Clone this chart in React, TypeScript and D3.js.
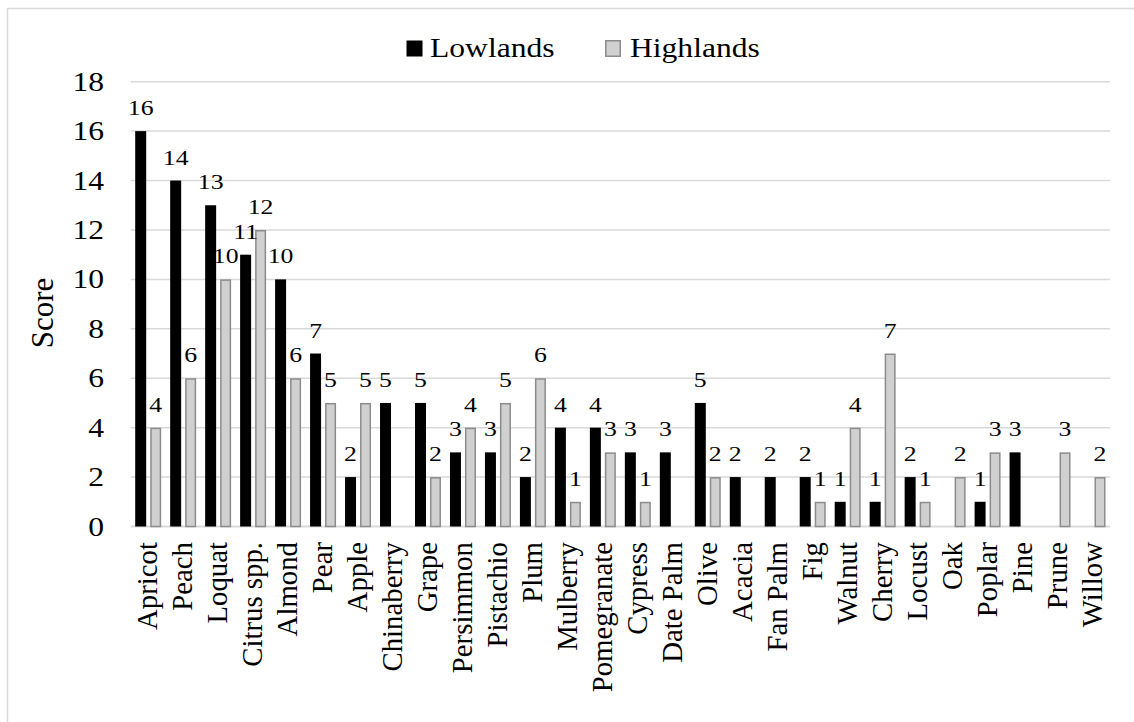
import React from 'react'
import * as d3 from 'd3'

const categories = [
  'Apricot', 'Peach', 'Loquat', 'Citrus spp.', 'Almond', 'Pear', 'Apple', 'Chinaberry',
  'Grape', 'Persimmon', 'Pistachio', 'Plum', 'Mulberry', 'Pomegranate', 'Cypress', 'Date Palm',
  'Olive', 'Acacia', 'Fan Palm', 'Fig', 'Walnut', 'Cherry', 'Locust', 'Oak', 'Poplar', 'Pine',
  'Prune', 'Willow'
]
const lowlands = [16, 14, 13, 11, 10, 7, 2, 5, 5, 3, 3, 2, 4, 4, 3, 3, 5, 2, 2, 2, 1, 1, 2, 0, 1, 3, 0, 0]
const highlands = [4, 6, 10, 12, 6, 5, 5, 0, 2, 4, 5, 6, 1, 3, 1, 0, 2, 0, 0, 1, 4, 7, 1, 2, 3, 0, 3, 2]
const seriesNames = ['Lowlands', 'Highlands']
const yTicks = [0, 2, 4, 6, 8, 10, 12, 14, 16, 18]

const W = 1134
const H = 722
const FONT = "'Liberation Serif', 'Times New Roman', Times, serif"
const SX = 1.17 // horizontal text widening seen in the source
const GRID = '#d9d9d9'
const GREY_FILL = '#d0d0d0'
const GREY_STROKE = '#8c8c8c'

const left = 130.7
const right = 1110
const top = 81.7
const bottom = 526.5

const App: React.FC = () => {
  const x = d3.scaleBand<string>().domain(categories).range([left, right]).padding(0)
  const inner = d3.scaleBand<string>()
    .domain(seriesNames)
    .range([0, x.bandwidth()])
    .paddingInner(4 / 15)
    .paddingOuter(0.3)
  const y = d3.scaleLinear().domain([0, 18]).range([bottom, top])

  const series = [
    { name: 'Lowlands', values: lowlands, fill: '#000', stroke: 'none' },
    { name: 'Highlands', values: highlands, fill: GREY_FILL, stroke: GREY_STROKE }
  ]

  return (
    <svg width={W} height={H} style={{ position: 'absolute', left: 0, top: 0, fontFamily: FONT }}>
      <rect x={0} y={0} width={W} height={H} fill="#fff" />
      {/* outer frame */}
      <rect x={7.5} y={8.5} width={W + 20} height={H + 20} fill="none" stroke={GRID} strokeWidth={1.5} />

      {/* gridlines */}
      {yTicks.map(t => (
        <line key={t} x1={left} x2={right} y1={y(t)} y2={y(t)} stroke={GRID} strokeWidth={t === 0 ? 2 : 1.5} />
      ))}

      {/* y tick labels */}
      {yTicks.map(t => (
        <text key={'t' + t} transform={`translate(104, ${y(t) + 9}) scale(${SX},1)`} textAnchor="end" fontSize={27} fill="#000">
          {t}
        </text>
      ))}

      {/* y title */}
      <text transform="translate(53, 313) rotate(-90)" textAnchor="middle" fontSize={31} fill="#000">Score</text>

      {/* bars */}
      {series.map(s => (
        <g key={s.name}>
          {categories.map((c, i) => {
            const v = s.values[i]
            if (!v) return null
            const bx = (x(c) as number) + (inner(s.name) as number)
            const pad = s.stroke === 'none' ? 0 : 0.75
            return (
              <rect
                key={c}
                x={bx + pad}
                y={y(v) + pad}
                width={inner.bandwidth() - 2 * pad}
                height={y(0) - y(v) - pad}
                fill={s.fill}
                stroke={s.stroke}
                strokeWidth={1.5}
              />
            )
          })}
        </g>
      ))}

      {/* data labels */}
      {series.map(s => (
        <g key={'l' + s.name}>
          {categories.map((c, i) => {
            const v = s.values[i]
            if (!v) return null
            const cx = (x(c) as number) + (inner(s.name) as number) + inner.bandwidth() / 2
            return (
              <text key={c} transform={`translate(${cx}, ${y(v) - 16}) scale(${SX},1)`} textAnchor="middle" fontSize={22} fill="#000">
                {v}
              </text>
            )
          })}
        </g>
      ))}

      {/* category labels */}
      {categories.map(c => (
        <text
          key={'c' + c}
          transform={`translate(${(x(c) as number) + x.bandwidth() / 2}, 542) rotate(-90)`}
          textAnchor="end"
          dy="0.32em"
          fontSize={28.8}
          fill="#000"
        >
          {c}
        </text>
      ))}

      {/* legend */}
      <rect x={406.5} y={40.5} width={16} height={16} fill="#000" />
      <text transform={`translate(430, 57) scale(${SX},1)`} fontSize={27} fill="#000">Lowlands</text>
      <rect x={605.75} y={40.75} width={14.5} height={15.5} fill={GREY_FILL} stroke={GREY_STROKE} strokeWidth={1.5} />
      <text transform={`translate(630, 57) scale(${SX},1)`} fontSize={27} fill="#000">Highlands</text>
    </svg>
  )
}

export default App
